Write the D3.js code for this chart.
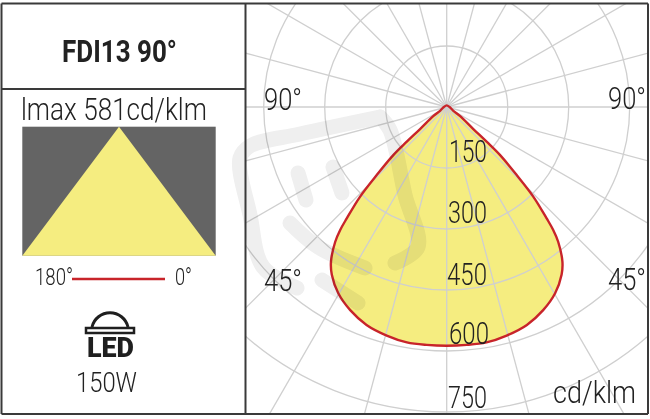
<!DOCTYPE html>
<html><head><meta charset="utf-8">
<script src="https://cdnjs.cloudflare.com/ajax/libs/d3/7.8.5/d3.min.js"></script>
<style>html,body{margin:0;padding:0;background:#fff}svg{display:block}text{font-family:Roboto,sans-serif;fill:#222}</style>
</head><body><script>
const ringValues=[150,300,450,600,750];
const spokeAngles=d3.range(0,360,15);
const curveAngles=[0,4.8,9.6,14.7,20.2,25.4,30.2,34.4,36.8,39.6,40.9,41.9,44,45.8,48,49,50.4,55.9,61,90,180];
const curveValues=[587,587,587,581,571,553,530,500,475,430,400,368,307,240,176,130,85,40,18,7,4];
const title="FDI13 90°", imaxLabel="lmax 581cd/klm", unit="cd/klm", power="150W";

const W=650,H=419,cx=446.7,cy=107;
const svg=d3.select("body").append("svg").attr("width",W).attr("height",H);
const r=d3.scaleLinear().domain([0,750]).range([0,305]);
const rad=d=>d*Math.PI/180;
svg.append("defs").append("clipPath").attr("id","p").append("rect").attr("x",246).attr("y",4).attr("width",402).attr("height",410);
const g=svg.append("g").attr("clip-path","url(#p)");
const c=g.append("g").attr("transform",`translate(${cx},${cy})`);

const right=curveAngles.map((a,i)=>[rad(180-a),r(curveValues[i])]).reverse();
const left=curveAngles.map((a,i)=>[rad(180+a),r(curveValues[i])]).slice(1,-1);
const pts=[...right,...left];
const lr=d3.lineRadial().curve(d3.curveCatmullRomClosed.alpha(.5));
c.append("path").attr("d",lr(pts)).attr("fill","#f5ed80");

c.selectAll(".s").data(spokeAngles).join("line").attr("x1",0).attr("y1",0)
 .attr("x2",d=>500*Math.sin(rad(d))).attr("y2",d=>500*Math.cos(rad(d))).attr("stroke","#cfcfcf").attr("stroke-width",1.3);
c.selectAll(".r").data(ringValues).join("circle").attr("r",d=>r(d)).attr("fill","none").attr("stroke","#cfcfcf").attr("stroke-width",1.3);

// watermark
const wm=svg.append("g").attr("fill","none").attr("stroke","#efefef").attr("stroke-width",15).attr("stroke-linecap","round").attr("stroke-linejoin","round").style("mix-blend-mode","multiply");
[[[380,117],[300,134],[250,146],[240,158],[250,215],[263,267],[297,288]],[[380,117],[390,130],[405,195],[418,247],[395,263]],
 [[290,223],[318,247],[365,268]],[[322,280],[358,303]],[[298,173],[306,200]],[[333,167],[342,193]]]
 .forEach(p=>wm.append("path").attr("d",d3.line().curve(d3.curveCatmullRom)(p)));

c.append("path").attr("d",lr(pts)).attr("fill","none").attr("stroke","#c8242a").attr("stroke-width",2.4);

function T(s,x,y,w,size,weight=300){
  const t=svg.append("text").attr("font-size",size).attr("font-weight",weight).text(s);
  const k=w/t.node().getComputedTextLength();
  return t.attr("transform",`translate(${x},${y}) scale(${k},1)`);
}
T("90°",264,110,38,31);T("90°",608,109,38,31);T("45°",264,291,38,31);T("45°",608,290,38,31);
ringValues.forEach((v,i)=>T(String(v),[449,448,447,449,448][i],[162,223,285,344,408][i],[38,39,40,40,39][i],31));
T(unit,553,403,83,31);
T(title,62,62,115,31,700);
T(imaxLabel,21,120,186,31);
svg.append("rect").attr("x",22.3).attr("y",126.7).attr("width",193.4).attr("height",129).attr("fill","#646464");
svg.append("path").attr("d",d3.line()([[119,126.7],[215.7,255.7],[22.3,255.7]])+"Z").attr("fill","#f5ed80");
T("180°",35,285,38,23);T("0°",175,285,17,23);
svg.append("line").attr("x1",72).attr("x2",165).attr("y1",279).attr("y2",279).attr("stroke","#c8242a").attr("stroke-width",2.4);
svg.append("path").attr("d","M92 327A18.5 18.5 0 0 1 128 327").attr("fill","none").attr("stroke","#1f1f1f").attr("stroke-width",3);
svg.append("rect").attr("x",86).attr("y",328).attr("width",48).attr("height",5).attr("fill","none").attr("stroke","#1f1f1f").attr("stroke-width",2.5);
T("LED",87,357,47,28,900).style("fill","#1f1f1f");
T(power,76,392,61,28);

[[1.5,3.5,1.5,414],[1.5,3.5,648,3.5],[648,3.5,648,414],[1.5,414,648,414],[245.5,3.5,245.5,414],[1.5,89,245.5,89]]
 .forEach(l=>svg.append("line").attr("x1",l[0]).attr("y1",l[1]).attr("x2",l[2]).attr("y2",l[3]).attr("stroke","#3a3a3a").attr("stroke-width",2));
</script></body></html>
